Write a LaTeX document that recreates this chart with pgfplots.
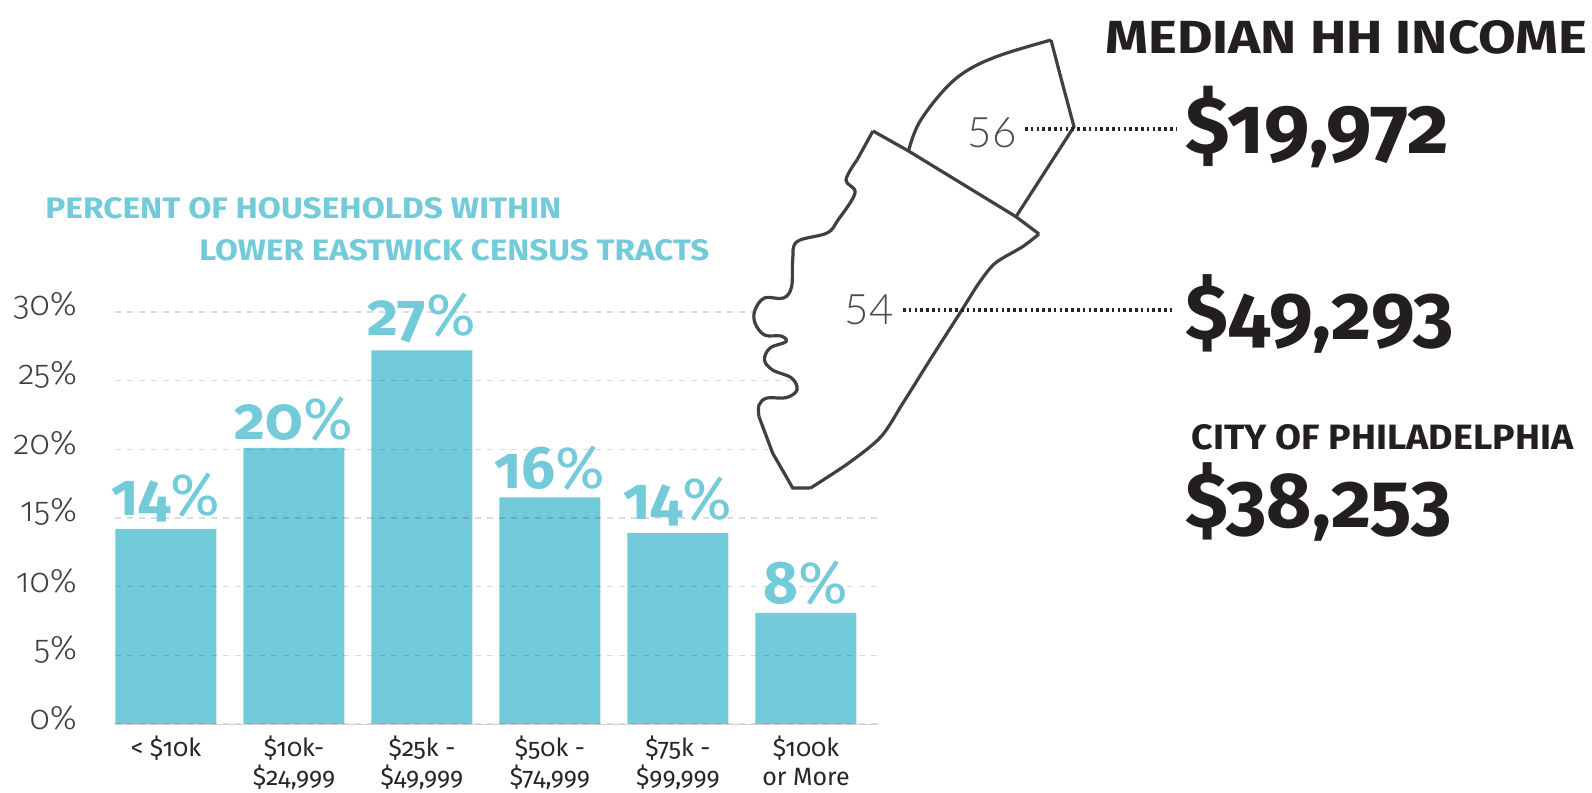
\documentclass[border=0pt]{standalone}
\usepackage{fontspec}
\usepackage{graphicx}
\usepackage{pgfplots}
\pgfplotsset{compat=1.18}
\setmainfont{Fira Sans}[Numbers=OldStyle]
\newfontfamily\lightf{Fira Sans Light}[Numbers=OldStyle]
\newfontfamily\mapf{Lato Light}
\definecolor{bar}{HTML}{73CBD9}
\definecolor{ink}{HTML}{231F20}
\begin{document}
\begin{tikzpicture}
\path[use as bounding box] (0,0) rectangle (796pt,396.5pt);
% bar chart, placed by pixel position (1 px = 0.5pt)
\begin{axis}[
  at={(57.5pt,34.5pt)}, anchor=south west,
  width=381.5pt, height=206pt, scale only axis,
  xmin=-0.398, xmax=5.5625, ymin=0, ymax=30,
  axis on top,
  axis x line=bottom, axis y line=left,
  x axis line style={draw=black!18, -},
  y axis line style={draw=none},
  ytick={0,5,...,30},
  xtick={0,...,5},
  major tick length=0pt,
  ymajorgrids,
  grid style={black, opacity=0.14, dashed, line width=0.6pt},
  xticklabels={{< \$10k},{\$10k-\\\$24,999},{\$25k -\\\$49,999},{\$50k -\\\$74,999},{\$75k -\\\$99,999},{\$100k\\or More}},
  x tick label style={align=center, font=\fontsize{12.5}{14.5}\selectfont, text=black!85, anchor=north, yshift=-2.5pt},
  /pgf/number format/assume math mode=true,
  yticklabel={\pgfmathprintnumber{\tick}\%},
  y tick label style={font=\lightf\fontsize{17}{17}\selectfont, text=black!75, anchor=east, xshift=-15.5pt, yshift=3pt},
  point meta=explicit,
  nodes near coords={\pgfmathprintnumber{\pgfplotspointmeta}{\mdseries\%}},
  nodes near coords style={font=\fontsize{30}{30}\selectfont\bfseries, text=bar, anchor=south, yshift=0pt},
]
\addplot[ybar, bar width=50.5pt, fill=bar, draw=none] coordinates {
  (0,14.2) [14]
  (1,20.1) [20]
  (2,27.2) [27]
  (3,16.5) [16]
  (4,13.9) [14]
  (5,8.1) [8]
};
\end{axis}
% overlay in reference pixels: tract outline, leaders and text
\begin{axis}[
  at={(0,0)}, anchor=south west,
  width=796pt, height=396.5pt, scale only axis,
  xmin=0, xmax=1592, ymin=0, ymax=793, y dir=reverse,
  hide axis, clip=false,
]
% tract 54
\addplot[fill=white, draw=none, forget plot] coordinates {
  (873,131) (908.5,148) (1016,216.7) (1039,234) (1022.6,246.7) (995.4,263) (979,283) (960,313) (932,356.7) (903,403) (881,436.7)
  (848.7,463) (810.6,488) (792.7,488) (772.6,453) (759,416.7) (759,405) (767,398) (786,397.7) (797,390) (791.6,378) (772.6,370)
  (764.5,360) (770,348) (786,341.7) (781,336) (764.5,335) (755,323) (755,310) (764.5,298) (783.5,298) (791.6,286.7) (792.7,260)
  (797,241.7) (827,233) (838,220) (855,193) (846,180) (857,160) (873,131)
} -- cycle;
\addplot[draw=black!75, line width=1.6pt, no markers] coordinates {(873,131) (908.5,151) (1016,216.7) (1039,234)};
\addplot[draw=black!75, line width=1.6pt, no markers, smooth, tension=0.5] coordinates {
  (1039,234) (1022.6,246.7) (995.4,263) (979,283) (960,313) (932,356.7) (903,403) (881,436.7)
  (848.7,463) (810.6,488)};
\addplot[draw=black!75, line width=1.6pt, no markers] coordinates {(810.6,488) (792.7,488) (772.6,453) (759,416.7)};
\addplot[draw=black!75, line width=1.6pt, no markers, smooth, tension=0.6] coordinates {
  (759,416.7) (759,405) (767,398) (786,397.7) (797,390) (791.6,378) (772.6,370)
  (764.5,360) (770,348) (786,341.7) (781,336) (764.5,335) (755,323) (755,310) (764.5,298) (783.5,298) (791.6,286.7) (792.7,260)
  (797,241.7) (827,233) (838,220) (855,193) (846,180) (857,160)};
\addplot[draw=black!75, line width=1.6pt, no markers] coordinates {(857,160) (873,131)};
% tract 56
\addplot[draw=black!75, line width=1.6pt, no markers, smooth, tension=0.6] coordinates {
  (908.5,151) (919,123) (944,90) (968,70) (1001,55) (1051,40)};
\addplot[draw=black!75, line width=1.6pt, no markers] coordinates {(1051,40) (1060.6,76.7) (1074,126.7) (1016,216.7)};
% leaders
\addplot[draw=black!85, line width=1.6pt, dash pattern=on 1.3pt off 1.6pt, no markers] coordinates {(1025,129) (1177,129)};
\addplot[draw=black!85, line width=1.6pt, dash pattern=on 1.3pt off 1.6pt, no markers] coordinates {(903,310) (1175,310)};
% text
\node[anchor=center, text=black!70, font=\mapf\fontsize{21}{21}\selectfont] at (axis cs:992,133) {56};
\node[anchor=center, text=black!70, font=\mapf\fontsize{21}{21}\selectfont] at (axis cs:869,310) {54};
\node[anchor=west, inner sep=0pt, text=bar] at (axis cs:45,208) {\resizebox{258pt}{10.5pt}{\bfseries PERCENT OF HOUSEHOLDS WITHIN}};
\node[anchor=west, inner sep=0pt, text=bar] at (axis cs:199,250) {\resizebox{255pt}{10.5pt}{\bfseries LOWER EASTWICK CENSUS TRACTS}};
\node[anchor=west, inner sep=0pt, text=ink] at (axis cs:1105,37) {\resizebox{241pt}{16.5pt}{\bfseries MEDIAN HH INCOME}};
\node[anchor=west, inner sep=0pt, text=ink] at (axis cs:1191,437) {\resizebox{191pt}{12.5pt}{\bfseries CITY OF PHILADELPHIA}};
\node[anchor=west, inner sep=0pt, text=ink] at (axis cs:1185,127) {\resizebox{132pt}{!}{\bfseries \$19,972}};
\node[anchor=west, inner sep=0pt, text=ink] at (axis cs:1185,314) {\resizebox{134pt}{!}{\bfseries \$49,293}};
\node[anchor=west, inner sep=0pt, text=ink] at (axis cs:1185,502) {\resizebox{133pt}{!}{\bfseries \$38,253}};
\end{axis}
\end{tikzpicture}
\end{document}
